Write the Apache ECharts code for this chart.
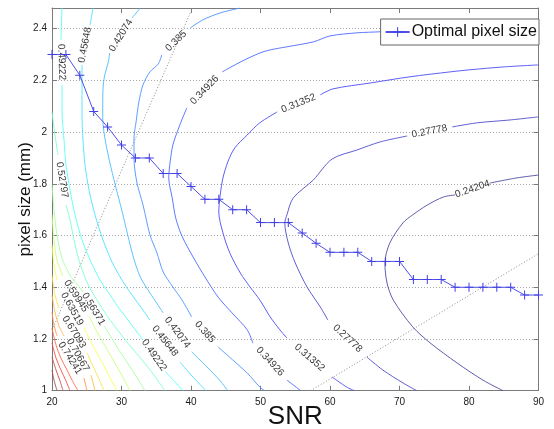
<!DOCTYPE html>
<html><head><meta charset="utf-8">
<script src="https://cdn.jsdelivr.net/npm/echarts@6/dist/echarts.min.js"></script>
<style>html,body{margin:0;padding:0;background:#fff}#c{width:554px;height:429px}</style>
</head><body><div id="c"></div>
<script>
// ---- axes ----
const xTicks = [20, 30, 40, 50, 60, 70, 80, 90];
const yTicks = [1, 1.2, 1.4, 1.6, 1.8, 2, 2.2, 2.4];
const yMax = 2.48;

// ---- optimal pixel size ----
const snr = [20,22,24,26,28,30,32,34,36,38,40,42,44,46,48,50,52,54,56,58,60,62,64,66,68,70,72,74,76,78,80,82,84,86,88,90];
const optimalPixel = [2.30,2.30,2.22,2.08,2.02,1.95,1.90,1.90,1.84,1.84,1.79,1.74,1.74,1.70,1.70,1.65,1.65,1.65,1.61,1.57,1.535,1.535,1.535,1.50,1.50,1.50,1.43,1.43,1.43,1.40,1.40,1.40,1.40,1.40,1.37,1.37];

// ---- dotted reference lines ----
const diag1 = [[20, 1.2346], [40.2, 2.48]];
const diag2 = [[57.2, 1.0], [90, 1.53]];

// ---- contour levels and traced lines (null = label gap) ----
const levels = [0.24204,0.27778,0.31352,0.34926,0.385,0.42074,0.45648,0.49222,0.52797,0.56371,0.59945,0.63519,0.67093,0.70667,0.74241,0.77815,0.81389,0.84963,0.88537];
const c024204 = [[90.0,1.834],[86.9,1.823],[83.0,1.803],null,[78.0,1.757],[76.3,1.749],[74.0,1.718],[71.9,1.680],[70.5,1.649],[68.6,1.571],[67.9,1.494],[68.2,1.417],[69.1,1.351],[71.9,1.247],[74.4,1.185],[78.3,1.107],[82.0,1.041],[84.9,1.0]];
const c027778 = [[90.0,2.059],[85.9,2.047],[81.2,2.036],[77.6,2.020],null,[71.1,1.985],[67.2,1.962],[63.9,1.931],[60.3,1.896],[57.6,1.815],[54.7,1.745],[53.8,1.680],[53.5,1.649],[54.0,1.571],[55.0,1.494],[56.7,1.401],[58.6,1.324],[59.7,1.273],null,[65.3,1.130],[67.6,1.080],[70.5,1.030],[72.5,1.0]];
const c031352 = [[90.0,2.260],[84.9,2.252],[80.1,2.241],[77.3,2.233],[71.5,2.214],[65.8,2.190],[60.4,2.167],[58.6,2.144],null,[52.4,2.078],[49.9,2.036],[48.1,1.989],[46.3,1.939],[45.3,1.885],[44.6,1.823],[44.2,1.757],[44.0,1.691],[44.6,1.610],[45.6,1.532],[47.1,1.455],[48.5,1.401],[49.9,1.351],[51.4,1.285],[52.8,1.235],[53.8,1.204],null,[60.3,1.053],[62.4,1.014],[63.5,1.0]];
const c034926 = [[90,2.426],[77.3,2.403],[67.2,2.388],[63.9,2.384],[60.0,2.372],[57.6,2.349],[53.8,2.330],[51.4,2.318],[49.9,2.306],[47.1,2.271],[44.5,2.233],null,[39.4,2.094],[38.4,2.028],[37.4,1.951],[37.0,1.885],[36.8,1.823],[37.3,1.745],[37.8,1.668],[38.7,1.598],[40.3,1.517],[42.0,1.440],[43.9,1.362],[45.9,1.301],[48.1,1.235],[48.9,1.184],null,[53.8,1.041],[55.8,1.0]];
const c0385 = [[47.1,2.48],[44.2,2.461],[41.7,2.434],[39.9,2.403],null,[35.8,2.299],[35.3,2.264],[34.1,2.233],[33.1,2.183],[32.5,2.117],[32.1,2.040],[31.8,1.978],[31.8,1.900],[32.2,1.807],[33.1,1.718],[34.1,1.602],[35.1,1.533],[36.0,1.459],[37.4,1.401],[38.7,1.351],[40.1,1.285],null,[43.9,1.169],[46.0,1.119],[48.1,1.068],[49.9,1.014],[50.6,1.0]];
const c042074 = [[32.7,2.48],[31.5,2.441],null,[28.3,2.306],[28.1,2.271],[27.5,2.209],[27.3,2.132],[27.3,2.055],[27.6,1.978],[28.3,1.885],[29.1,1.796],[30.1,1.692],[30.9,1.602],[31.7,1.517],[32.7,1.440],[34.1,1.378],[36.0,1.301],null,[40.1,1.150],[42.3,1.092],[44.2,1.038],[45.3,1.0]];
const c045648 = [[25.90,2.48],[25.47,2.414],null,[24.32,2.260],[24.32,2.164],[24.32,2.067],[24.46,1.970],[24.75,1.873],[25.32,1.777],[26.19,1.680],[27.34,1.583],[28.63,1.498],[30.07,1.428],[31.51,1.370],[33.09,1.312],[34.10,1.273],null,[38.42,1.111],[40.14,1.057],[42.16,1.0]];
const c049222 = [[21.44,2.48],[21.29,2.357],null,[21.44,2.183],[21.44,2.086],[21.73,1.970],[22.01,1.873],[22.59,1.777],[23.31,1.680],[24.32,1.583],[25.61,1.498],[26.91,1.428],[28.06,1.382],[29.50,1.324],[30.94,1.273],[32.23,1.227],[33.09,1.196],null,[36.26,1.076],[37.55,1.038],[38.85,1.0]];
const c052797 = [[20.00,2.078],[20.43,1.989],[20.86,1.912],null,[22.01,1.718],[22.59,1.660],[23.17,1.583],[23.88,1.505],[24.89,1.428],[25.76,1.382],[26.91,1.332],[28.35,1.273],[29.78,1.223],[31.37,1.169],[32.95,1.119],[34.53,1.065],[36.26,1.0]];
const c056371 = [[20.00,1.796],[20.29,1.699],[20.72,1.602],[21.44,1.513],[22.59,1.447],[23.60,1.412],[24.46,1.382],null,[27.48,1.250],[28.49,1.208],[29.64,1.157],[30.79,1.111],[32.09,1.057],[33.38,1.0]];
const c059945 = [[20.00,1.680],[20.29,1.583],[20.72,1.505],[21.58,1.443],null,[25.32,1.289],[26.33,1.235],[27.48,1.181],[28.63,1.126],[29.93,1.065],[31.22,1.0]];
const c063519 = [[20.00,1.564],[20.29,1.486],[20.72,1.428],null,[24.60,1.243],[25.47,1.196],[26.47,1.146],[27.48,1.096],[28.35,1.049],[29.35,1.0]];
const c067093 = [[20.00,1.447],[20.43,1.370],[21.01,1.320],null,[25.04,1.146],[25.76,1.103],[26.62,1.053],[27.48,1.0]];
const c070667 = [[20.00,1.370],[20.43,1.304],[21.01,1.250],[21.73,1.212],null,[25.61,1.061],[26.19,1.0]];
const c074241 = [[20.00,1.304],[20.29,1.254],[20.72,1.212],null,[24.60,1.049],[25.04,1.0]];
const c077815 = [[20.00,1.242],[20.58,1.177],[21.29,1.126],[22.16,1.080],[22.88,1.041],[23.74,1.0]];
const c081389 = [[20.00,1.185],[20.58,1.126],[21.29,1.080],[22.01,1.038],[22.59,1.0]];
const c084963 = [[20.00,1.130],[20.58,1.080],[21.15,1.038],[21.58,1.0]];
const c088537 = [[20.00,1.080],[20.29,1.041],[20.72,1.0]];

// ---- contour labels ----
const labelText  = ['0.24204','0.27778','0.27778','0.31352','0.31352','0.34926','0.34926','0.385','0.385','0.42074','0.42074','0.45648','0.45648','0.49222','0.49222','0.52797','0.56371','0.59945','0.63519','0.67093','0.70667','0.74241'];
const labelX     = [80.50, 74.32, 62.52, 55.47, 57.05, 41.94, 51.37, 37.84, 42.0, 29.93, 38.05, 24.75, 36.26, 21.37, 34.68, 21.44, 25.97, 23.45, 22.88, 23.17, 23.74, 22.59];
const labelY     = [1.780, 2.003, 1.202, 2.111, 1.128, 2.163, 1.113, 2.352, 1.227, 2.374, 1.225, 2.337, 1.192, 2.271, 1.137, 1.815, 1.316, 1.366, 1.316, 1.227, 1.138, 1.126];
const labelAngle = [19, 11, -43, 22, -41, 46, -47, 44, -49, 58, -53, 79, -52, -88, -55, -81, -59, -57, -61, -58, -60, -58];

const contourLines = [c024204,c027778,c031352,c034926,c0385,c042074,c045648,c049222,c052797,c056371,c059945,c063519,c067093,c070667,c074241,c077815,c081389,c084963,c088537];

function clamp(v){ return Math.max(0, Math.min(1, v)); }
function jet(t){
  const r = clamp(Math.min(4*t - 1.5, -4*t + 4.5));
  const g = clamp(Math.min(4*t - 0.5, -4*t + 3.5));
  const b = clamp(Math.min(4*t + 0.5, -4*t + 2.5));
  const mix = (c) => Math.round((c*0.7 + 0.3) * 255);
  return 'rgb(' + mix(r) + ',' + mix(g) + ',' + mix(b) + ')';
}
const lo = levels[0], hi = levels[levels.length - 1];

const FONT = 'Liberation Sans, Arial, Helvetica, sans-serif';
const axisGray = '#7a7a7a';
const plusPath = 'path://M4,0 H5 V4 H9 V5 H5 V9 H4 V5 H0 V4 H4 Z';

const series = [];
series.push({ type: 'line', data: diag1, showSymbol: false, silent: true, animation: false,
  lineStyle: { color: '#8a8a8a', width: 1, type: [1, 2] }, z: 1 });
series.push({ type: 'line', data: diag2, showSymbol: false, silent: true, animation: false,
  lineStyle: { color: '#8a8a8a', width: 1, type: [1, 2] }, z: 1 });
contourLines.forEach((pts, i) => {
  series.push({ type: 'line', data: pts, showSymbol: false, silent: true, animation: false,
    connectNulls: false, smooth: 0.3,
    lineStyle: { color: jet((levels[i] - lo) / (hi - lo)), width: 0.9 }, z: 2 });
});
series.push({ type: 'scatter', silent: true, animation: false, symbol: 'circle', symbolSize: 1, z: 3,
  itemStyle: { color: 'rgba(255,255,255,0)' },
  label: { show: true, position: 'inside', fontSize: 10, color: '#000', fontFamily: FONT },
  data: labelX.map((x, i) => ({
    value: [x, labelY[i]],
    label: { show: true, position: 'inside', formatter: labelText[i], rotate: labelAngle[i],
      fontSize: 10, color: '#000', fontFamily: FONT }
  }))
});
series.push({ name: 'Optimal pixel size', type: 'line', animation: false, z: 5,
  data: snr.map((s, i) => [s, optimalPixel[i]]),
  symbol: plusPath, symbolSize: 9, showAllSymbol: true, clip: false,
  lineStyle: { color: '#5050e8', width: 1 },
  itemStyle: { color: '#4040e4' } });

const chart = echarts.init(document.getElementById('c'), null, { renderer: 'canvas' });
chart.setOption({
  animation: false,
  backgroundColor: '#fff',
  grid: { left: 52, top: 8, width: 486.5, height: 382.7, containLabel: false, outerBoundsMode: 'none' },
  legend: {
    data: ['Optimal pixel size'], right: 15, top: 19,
    backgroundColor: '#fff', borderColor: '#666', borderWidth: 1, borderRadius: 0,
    padding: [5, 2, 5, 4], itemWidth: 24, itemHeight: 12, itemGap: 2,
    textStyle: { fontSize: 16, color: '#111', fontFamily: FONT, padding: [0, 0, 0, -3] }
  },
  xAxis: [
    { type: 'value', min: xTicks[0], max: xTicks[xTicks.length - 1], interval: 10,
      name: 'SNR', nameLocation: 'middle', nameGap: 13, nameMoveOverlap: false,
      nameTextStyle: { fontSize: 26, color: '#111', fontFamily: FONT, verticalAlign: 'top' },
      axisLine: { lineStyle: { color: axisGray } },
      axisTick: { inside: true, length: 5, lineStyle: { color: axisGray } },
      axisLabel: { fontSize: 10, color: '#1a1a1a', fontFamily: FONT, margin: 7 },
      splitLine: { show: false } },
    { type: 'value', position: 'top', min: xTicks[0], max: xTicks[xTicks.length - 1], interval: 10,
      axisLine: { lineStyle: { color: axisGray } },
      axisTick: { inside: true, length: 5, lineStyle: { color: axisGray } },
      axisLabel: { show: false }, splitLine: { show: false } }
  ],
  yAxis: [
    { type: 'value', min: yTicks[0], max: yMax, interval: 0.2,
      name: 'pixel size (mm)', nameLocation: 'middle', nameGap: 18, nameRotate: 90, nameMoveOverlap: false,
      nameTextStyle: { fontSize: 17, color: '#111', fontFamily: FONT, verticalAlign: 'bottom' },
      axisLine: { show: true, lineStyle: { color: axisGray } },
      axisTick: { show: true, inside: true, length: 5, lineStyle: { color: axisGray } },
      axisLabel: { fontSize: 10, color: '#1a1a1a', fontFamily: FONT, margin: 5,
        formatter: (v) => yTicks.some(t => Math.abs(t - v) < 1e-6) ? String(+v.toFixed(1)) : '' },
      splitLine: { show: true, lineStyle: { color: '#a8a8a8', width: 1, type: [1, 2] } } },
    { type: 'value', position: 'right', min: yTicks[0], max: yMax, interval: 0.2,
      axisLine: { show: true, lineStyle: { color: axisGray } },
      axisTick: { show: true, inside: true, length: 5, lineStyle: { color: axisGray } },
      axisLabel: { show: false }, splitLine: { show: false } }
  ],
  series: series
});
</script>
</body></html>
